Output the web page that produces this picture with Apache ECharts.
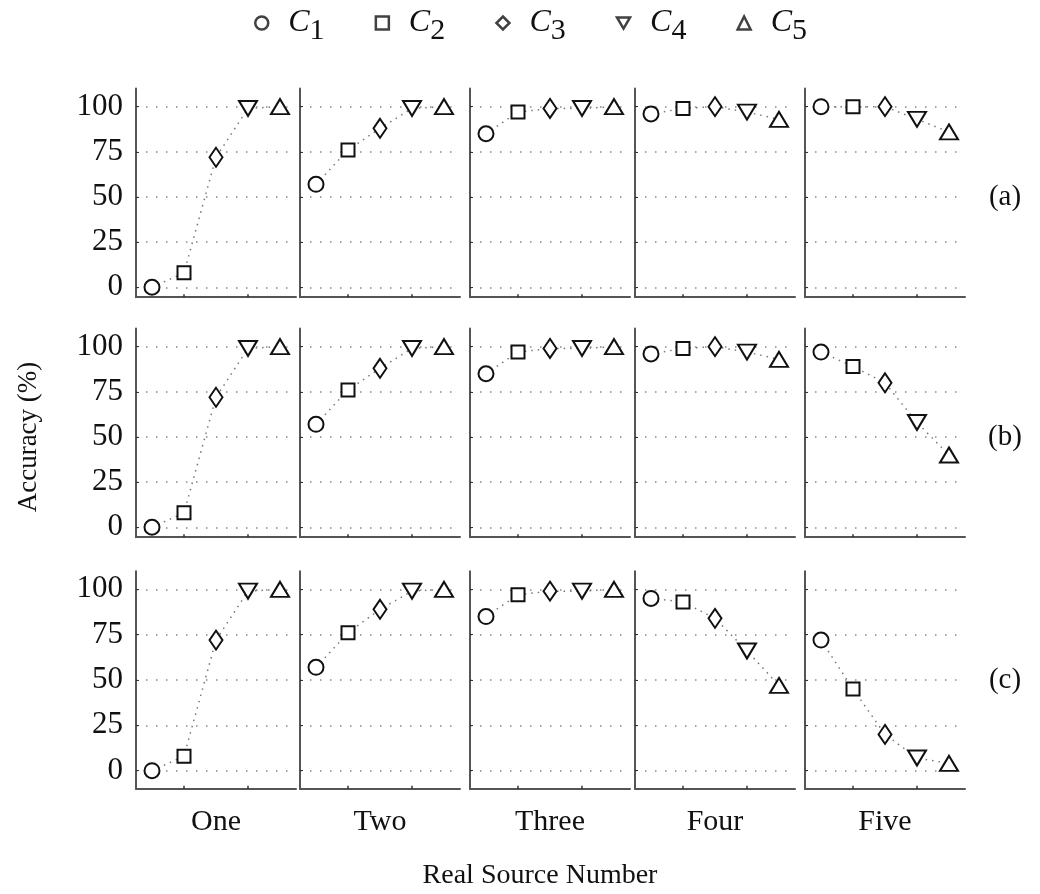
<!DOCTYPE html>
<html><head><meta charset="utf-8">
<script src="https://cdn.jsdelivr.net/npm/echarts@6/dist/echarts.min.js"></script>
<style>html,body{margin:0;padding:0;background:#fff}#chart{width:1040px;height:894px}</style>
</head><body><div id="chart"></div>
<script>
// ---- data ----
const categories = ['One', 'Two', 'Three', 'Four', 'Five'];
const classNames = ['C1', 'C2', 'C3', 'C4', 'C5'];
const rowLabels = ['(a)', '(b)', '(c)'];
const yTicks = [0, 25, 50, 75, 100];
const xTitle = 'Real Source Number';
const yTitle = 'Accuracy (%)';
// accuracy per panel (One..Five), each listing C1..C5
const valuesA = [
  [0, 8, 72, 99, 100],
  [57, 76, 88, 99, 100],
  [85, 97, 99, 99, 100],
  [96, 99, 100, 97, 93],
  [100, 100, 100, 93, 86]
];
const valuesB = [
  [0, 8, 72, 99, 100],
  [57, 76, 88, 99, 100],
  [85, 97, 99, 99, 100],
  [96, 99, 100, 97, 93],
  [97, 89, 80, 58, 40]
];
const valuesC = [
  [0, 8, 72, 99, 100],
  [57, 76, 89, 99, 100],
  [85, 97, 99, 99, 100],
  [95, 93, 84, 66, 47],
  [72, 45, 20, 7, 4]
];
const rowValues = [valuesA, valuesB, valuesC];

// ---- styles / layout ----
const FONT = 'Liberation Serif';
const DOWN_TRI = 'path://M0,0L20,0L10,17Z';
const classSymbols = ['circle', 'rect', 'diamond', 'triangle', 'triangle'];
const legendIcons = ['circle', 'rect', 'diamond', DOWN_TRI, 'triangle'];
const classRotate = [0, 0, 0, 180, 0];
const classSizes = [15, 13, [13, 19], [18, 15], [18, 15]];
const colLeft = [136, 300, 470, 635, 805];
const colWidth = 160;
const rowTop = [88.6, 328.6, 571.2];
const rowHeight = [208.6, 208.6, 217.6];
const rowMin = [-5.5, -5.5, -10];
const rowMax = [110, 110, 110];

const grids = [], xAxes = [], yAxes = [], series = [], graphics = [];
const markStyle = { color: '#fff', borderColor: '#111', borderWidth: 2 };

for (let r = 0; r < 3; r++) {
  for (let c = 0; c < 5; c++) {
    const k = r * 5 + c;
    grids.push({ left: colLeft[c], top: rowTop[r], width: colWidth, height: rowHeight[r] });
    xAxes.push({
      gridIndex: k, type: 'category', data: classNames, boundaryGap: true,
      axisLine: { onZero: false, lineStyle: { color: '#555', width: 2 } },
      axisTick: { show: true, inside: true, length: 3, alignWithLabel: true,
        interval: (i) => i === 1 || i === 3, lineStyle: { color: '#333', width: 1.5 } },
      axisLabel: { show: false },
      splitLine: { show: false },
      name: r === 2 ? categories[c] : '', nameLocation: 'middle', nameGap: 18,
      nameTextStyle: { fontFamily: FONT, fontSize: 30, color: '#111', verticalAlign: 'top' }
    });
    yAxes.push({
      gridIndex: k, type: 'value', min: rowMin[r], max: rowMax[r],
      axisLine: { show: true, onZero: false, lineStyle: { color: '#555', width: 2 } },
      axisTick: { show: true, inside: true, length: 3, customValues: yTicks, lineStyle: { color: '#333' } },
      axisLabel: { show: c === 0, customValues: yTicks, fontFamily: FONT, fontSize: 31, color: '#111', margin: 13 },
      splitLine: { show: true, lineStyle: { type: [1.5, 8.5], color: '#888', width: 1.5 } }
    });
    series.push({
      type: 'line', xAxisIndex: k, yAxisIndex: k,
      data: rowValues[r][c].map((v, j) => ({
        value: v, symbol: classSymbols[j], symbolSize: classSizes[j], symbolRotate: classRotate[j]
      })),
      showAllSymbol: true,
      lineStyle: { type: [1.5, 5], color: '#777', width: 1.5 },
      itemStyle: markStyle,
      emphasis: { disabled: true }, silent: true, z: 3
    });
  }
  graphics.push({
    type: 'text', x: 1005, y: rowTop[r] + (rowMax[r] - 50) / (rowMax[r] - rowMin[r]) * rowHeight[r],
    style: { text: rowLabels[r], fontFamily: FONT, fontSize: 29, fill: '#111', align: 'center', verticalAlign: 'middle' }
  });
}
// legend-only series
classNames.forEach((n, j) => series.push({
  type: 'scatter', name: n, xAxisIndex: 0, yAxisIndex: 0, data: [],
  symbol: legendIcons[j], itemStyle: markStyle
}));
graphics.push({
  type: 'text', x: 540, y: 876,
  style: { text: xTitle, fontFamily: FONT, fontSize: 28, fill: '#111', align: 'center', verticalAlign: 'middle' }
});
graphics.push({
  type: 'text', x: 29, y: 437, rotation: Math.PI / 2,
  style: { text: yTitle, fontFamily: FONT, fontSize: 27, fill: '#111', align: 'center', verticalAlign: 'middle' }
});

const chart = echarts.init(document.getElementById('chart'), null, { renderer: 'canvas' });
chart.setOption({
  animation: false,
  backgroundColor: '#fff',
  legend: {
    data: classNames.map((n, j) => ({ name: n, icon: legendIcons[j] })),
    left: 249, top: 2, itemGap: 50, itemWidth: 13, itemHeight: 13,
    selectedMode: false,
    itemStyle: { color: '#fff', borderColor: '#111', borderWidth: 2.5 },
    formatter: (name) => '{c|C}{s|' + name.slice(1) + '}',
    textStyle: {
      rich: {
        c: { fontFamily: FONT, fontStyle: 'italic', fontSize: 32, color: '#111', padding: [0, 0, 0, 15] },
        s: { fontFamily: FONT, fontSize: 30, color: '#111', padding: [16, 0, 0, 0] }
      }
    }
  },
  grid: grids, xAxis: xAxes, yAxis: yAxes, series: series, graphic: graphics
});
</script></body></html>
